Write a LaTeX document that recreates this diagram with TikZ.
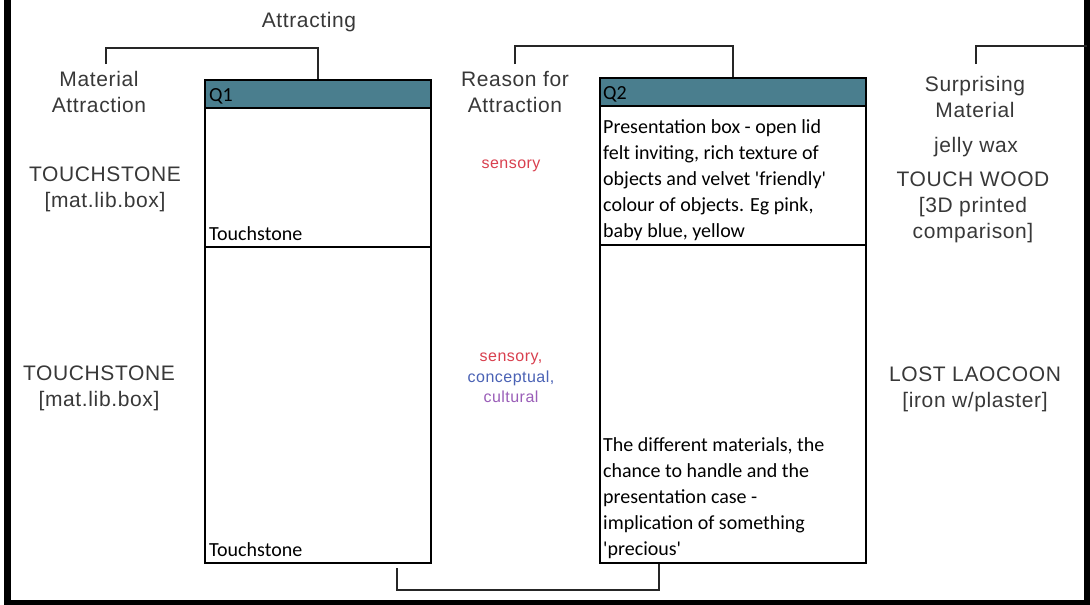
\documentclass[tikz,border=0pt]{standalone}
\usepackage{fontspec}
\newfontfamily\lblfont[LetterSpace=3]{Liberation Sans}
\newfontfamily\boxfont{Carlito}
\definecolor{hdrteal}{HTML}{4A7E8E}
\definecolor{labelgray}{HTML}{383838}
\definecolor{sensred}{HTML}{D9404F}
\definecolor{concblue}{HTML}{4A62B5}
\definecolor{cultpurple}{HTML}{9A5EB8}
\begin{document}
\begin{tikzpicture}[x=1pt,y=-1pt,
  lbl/.style={font=\lblfont\fontsize{21}{25.8}\selectfont, text=labelgray, align=center, inner sep=0, anchor=north},
  small/.style={font=\lblfont\fontsize{16}{20.5}\selectfont, align=center, inner sep=0},
  hdr/.style={draw=black, line width=1.8pt, fill=hdrteal, anchor=north west, inner sep=0},
  cell/.style={draw=black, line width=1.8pt, fill=white, anchor=north west, inner sep=0},
  btxt/.style={font=\boxfont\fontsize{20}{26}\selectfont, inner sep=0, align=left},
  conn/.style={line width=1.5pt, draw=black!85},
  framel/.style={line width=7pt, draw=black}]
\useasboundingbox[fill=white] (0,0) rectangle (1090,605);

% frame
\coordinate (ftl) at (7,-5);
\coordinate (fbl) at (7,603);
\coordinate (fbr) at (1087,603);
\coordinate (ftr) at (1087,-5);
\draw[framel] (ftl) -- (fbl) -- (fbr) -- (ftr);

% Q1 table
\node[cell, minimum width=226, minimum height=139] (q1r1) at (204,107) {};
\node[cell, minimum width=226, minimum height=316] (q1r2) at (204,246) {};
\node[hdr, minimum width=226, minimum height=28] (q1h) at (204,79) {};
\node[btxt, anchor=base west] (q1lab) at (209,101) {Q1};
\node[btxt, anchor=base west] (q1t1) at (209,240) {Touchstone};
\node[btxt, anchor=base west] (q1t2) at (209,556) {Touchstone};

% Q2 table
\node[cell, minimum width=266, minimum height=139] (q2r1) at (599,105) {};
\node[cell, minimum width=266, minimum height=318] (q2r2) at (599,244) {};
\node[hdr, minimum width=266, minimum height=28] (q2h) at (599,77) {};
\node[btxt, anchor=base west] (q2lab) at (603,99) {Q2};
\node[btxt, anchor=north west] (q2t1) at (603,119) {Presentation box - open lid\\felt inviting, rich texture of\\objects and velvet \textquotesingle friendly\textquotesingle\\colour of objects. Eg pink,\\baby blue, yellow};
\node[btxt, anchor=north west] (q2t2) at (603,437) {The different materials, the\\chance to handle and the\\presentation case -\\implication of something\\\textquotesingle precious\textquotesingle};

% labels
\node[lbl] (attr) at (309,12) {Attracting};
\node[lbl] (mat) at (99,71) {Material\\Attraction};
\node[lbl] (ts1) at (105,167) {TOUCHSTONE\\{[mat.lib.box]}};
\node[lbl] (ts2) at (99,366) {TOUCHSTONE\\{[mat.lib.box]}};
\node[lbl] (reason) at (515,71) {Reason for\\Attraction};
\node[small, text=sensred] (sens1) at (511,166) {sensory};
\node[small] (sens2) at (511,378) {\textcolor{sensred}{sensory,}\\\textcolor{concblue}{conceptual,}\\\textcolor{cultpurple}{cultural}};
\node[lbl] (surp) at (975,76) {Surprising\\Material};
\node[lbl] (jelly) at (976,137) {jelly wax};
\node[lbl] (tw) at (973,172) {TOUCH WOOD\\{[3D printed}\\comparison]};
\node[lbl] (lost) at (975,367) {LOST LAOCOON\\{[iron w/plaster]}};

% connectors
\coordinate (b1a) at (106,64);
\coordinate (b1y) at (0,48);
\draw[conn] (b1a) |- (q1h.north |- b1y) -- (q1h.north);
\coordinate (b2a) at (515,64);
\coordinate (b2y) at (0,46);
\draw[conn] (b2a) |- (q2h.north |- b2y) -- (q2h.north);
\coordinate (b3a) at (976,64);
\coordinate (b3y) at (0,46);
\draw[conn] (b3a) |- (ftr |- b3y);
\coordinate (b4a) at (397,568);
\coordinate (b4x) at (659,0);
\coordinate (b4y) at (0,590);
\draw[conn] (b4a) |- (b4x |- b4y) -- (b4x |- q2r2.south);
\end{tikzpicture}
\end{document}
